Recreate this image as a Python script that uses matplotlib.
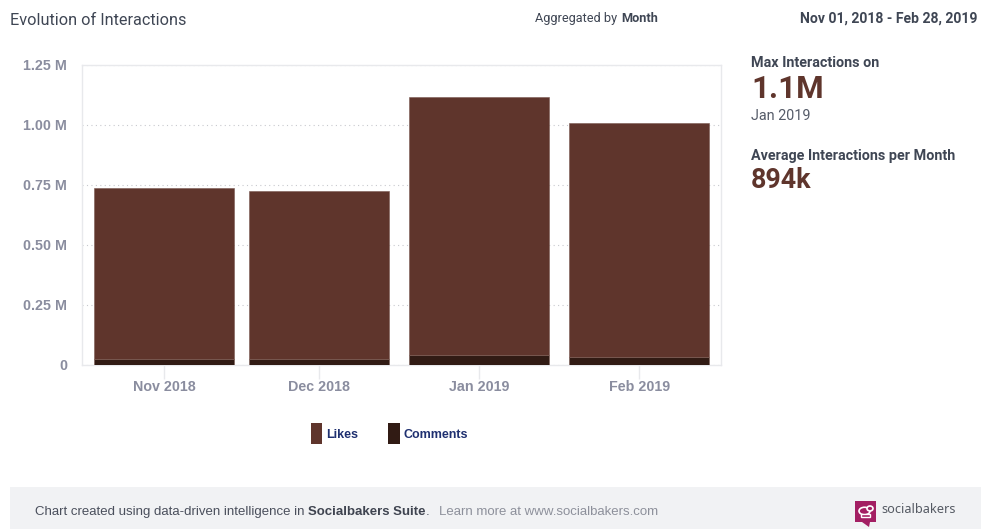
#!/usr/bin/env python3

#Monthly interactions (likes and comments) as stacked bars on a date axis,
#with the summary figures on the right and the footer strip below.

import datetime as dt
import matplotlib
matplotlib.use("Agg")
import matplotlib.pyplot as plt
import matplotlib.dates as mdates
from matplotlib.patches import Rectangle, Polygon, Ellipse

#values in million interactions
months = [dt.date(2018, 11, 1), dt.date(2018, 12, 1), dt.date(2019, 1, 1), dt.date(2019, 2, 1)]
month_labels = ["Nov 2018", "Dec 2018", "Jan 2019", "Feb 2019"]
comments = [0.025, 0.024, 0.042, 0.034]
likes = [0.712, 0.702, 1.073, 0.974]
y_ticks = [0, 0.25, 0.50, 0.75, 1.00, 1.25]
y_labels = ["0", "0.25 M", "0.50 M", "0.75 M", "1.00 M", "1.25 M"]

col_likes = "#5f352c"
col_comments = "#311b14"
col_edge = "#7a5a52"
col_tick = "#8a8d9f"
col_head = "#3f4654"
W, H = 982, 529
SANS = "Liberation Sans"
ROBOTO = "Roboto"

fig = plt.figure(figsize=(W/100, H/100), dpi=100, facecolor="white")

#overlay in pixel coordinates for the texts, footer and legend swatches
over = fig.add_axes([0, 0, 1, 1], zorder=0)
over.set_xlim(0, W); over.set_ylim(H, 0); over.axis("off")

ax = fig.add_axes([82/W, 1-364.8/H, 639/W, 299.8/H], zorder=1)
ax.patch.set_alpha(0)
x = mdates.date2num(months)
ax.bar(x, comments, width=27, color=col_comments, edgecolor=col_edge, linewidth=0.4, zorder=3)
ax.bar(x, likes, width=27, bottom=comments, color=col_likes, edgecolor=col_edge, linewidth=0.4, zorder=3)

ax.set_xlim(x[0]-15.9, x[-1]+15.85)
ax.set_ylim(0, 1.25)
ax.set_xticks(x); ax.set_xticklabels(month_labels)
ax.set_yticks(y_ticks); ax.set_yticklabels(y_labels)
ax.tick_params(axis="x", length=10, width=1, color="#e8e9ec", pad=0.8, labelcolor=col_tick, labelsize=10.3)
ax.tick_params(axis="y", length=0, pad=10.8, labelcolor=col_tick, labelsize=10.3)
for lab in ax.get_xticklabels()+ax.get_yticklabels():
    lab.set_fontfamily(SANS); lab.set_fontweight("bold")
ax.grid(axis="y", color="#c8c9ce", linestyle=(0, (1, 3)), linewidth=0.8, zorder=1)
for s in ax.spines.values():
    s.set_color("#e8e9ec"); s.set_linewidth(1)

#header
over.text(10, 20.3, "Evolution of Interactions", family=ROBOTO, fontsize=11.7, color=col_head, va="center")
over.text(535, 18.5, "Aggregated by", family=ROBOTO, fontsize=9.2, color=col_head, va="center")
over.text(621, 18.5, "Month", family=ROBOTO, fontsize=9.2, fontweight="bold", color=col_head, va="center")
over.text(978, 19, "Nov 01, 2018 - Feb 28, 2019", family=ROBOTO, fontsize=10.1, fontweight="bold",
          color=col_head, va="center", ha="right")

#summary block
over.text(751.5, 62.7, "Max Interactions on", family=ROBOTO, fontsize=10.4, fontweight="bold", color=col_head, va="center")
over.text(751, 88.5, "1.1M", family=ROBOTO, fontsize=22.6, fontweight="bold", color=col_likes, va="center")
over.text(751.5, 115.5, "Jan 2019", family=ROBOTO, fontsize=10.4, color="#555b68", va="center")
over.text(751.5, 156.3, "Average Interactions per Month", family=ROBOTO, fontsize=10.4, fontweight="bold", color=col_head, va="center")
over.text(751, 180, "894k", family=ROBOTO, fontsize=19.4, fontweight="bold", color=col_likes, va="center")

#legend
over.add_patch(Rectangle((311, 422.5), 11.5, 21.5, fc=col_likes, ec="none"))
over.add_patch(Rectangle((388.5, 422.5), 11.5, 21.5, fc=col_comments, ec="none"))
over.text(326.5, 435.5, "Likes", family=SANS, fontsize=9, fontweight="bold", color="#1f3070", va="center")
over.text(404, 435.5, "Comments", family=SANS, fontsize=9, fontweight="bold", color="#1f3070", va="center")

#footer strip
over.add_patch(Rectangle((10, 487), 971, 42, fc="#f1f2f4", ec="none"))
over.text(35, 512, "Chart created using data-driven intelligence in", family=SANS, fontsize=9.5, color="#4a4f5c", va="center")
over.text(308, 512, "Socialbakers Suite", family=SANS, fontsize=9.5, fontweight="bold", color="#3f4450", va="center")
over.text(426, 512, ".", family=SANS, fontsize=9.5, color="#4a4f5c", va="center")
over.text(439.5, 512, "Learn more at www.socialbakers.com", family=SANS, fontsize=9.5, color="#8d909b", va="center")

#brand mark: speech bubble with a chef hat
over.add_patch(Rectangle((855, 501), 21.5, 21, fc="#a31f63", ec="none"))
over.add_patch(Polygon([[862, 522], [870, 522], [869, 527]], fc="#a31f63", ec="none"))
over.add_patch(Ellipse((864.5, 511), 11, 7.5, fc="#a31f63", ec="white", lw=1.2))
over.add_patch(Ellipse((870, 508.5), 6, 5, fc="#a31f63", ec="white", lw=1.2))
over.add_patch(Rectangle((861, 514), 9, 2.5, fc="#a31f63", ec="white", lw=1))
over.text(881, 509.5, "socialbakers", family="Noto Sans", fontsize=9.2, fontweight="medium", color="#555a63", va="center")

fig.savefig("out.png", dpi=100)
